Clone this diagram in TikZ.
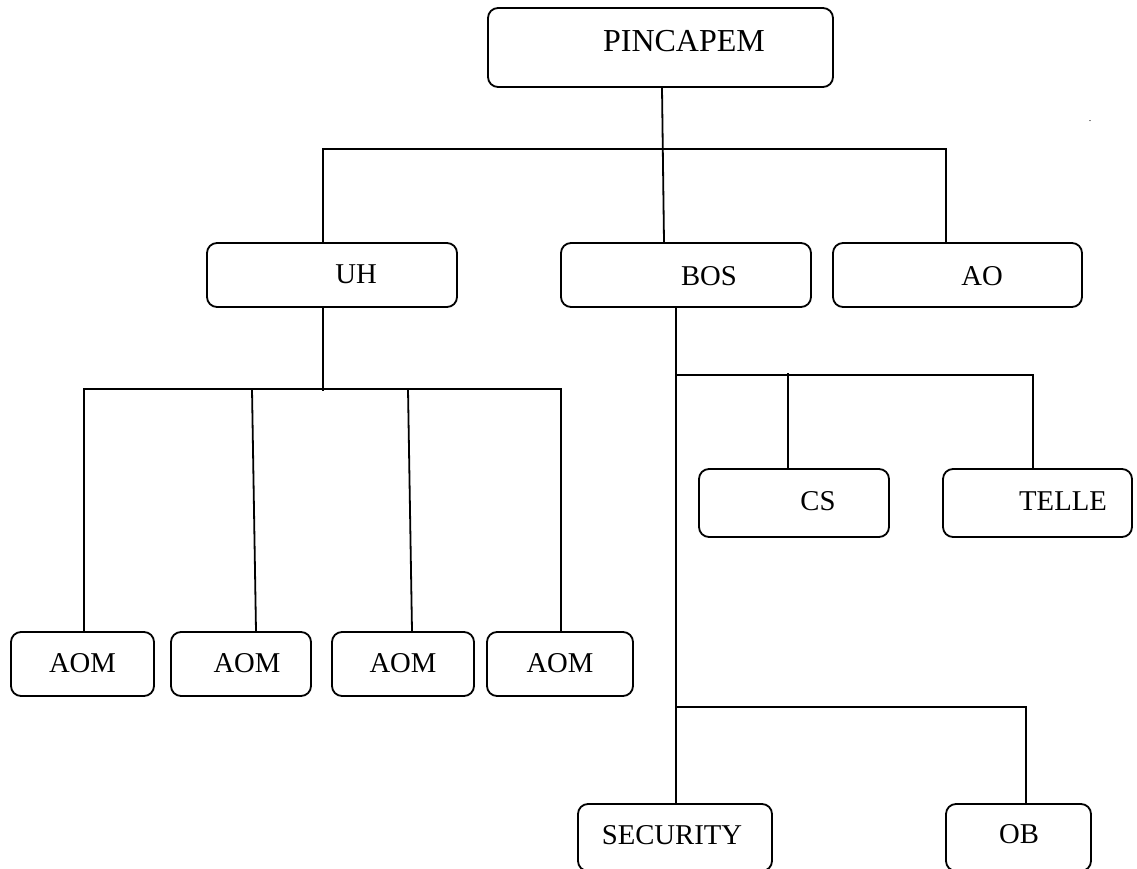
\documentclass[tikz,border=0pt]{standalone}
\usepackage{fontspec}
\setmainfont{Liberation Serif}
\usetikzlibrary{calc}
\begin{document}
\begin{tikzpicture}[x=1pt,y=-1pt,
  box/.style={draw,rounded corners=10pt,line width=1.8pt,inner sep=0pt,anchor=center},
  lbl/.style={anchor=base,inner sep=0pt,font=\fontsize{28.7}{34}\selectfont},
  biglbl/.style={anchor=base,inner sep=0pt,font=\fontsize{32}{38}\selectfont},
  conn/.style={line width=1.8pt}]
\useasboundingbox[fill=white] (0,0) rectangle (1137,869);
% boxes
\node[box,minimum width=345pt,minimum height=79pt] (PIN) at (660.5,47.5) {};
\node[box,minimum width=250pt,minimum height=64pt] (UH) at (332,275) {};
\node[box,minimum width=250pt,minimum height=64pt] (BOS) at (686,275) {};
\node[box,minimum width=249pt,minimum height=64pt] (AO) at (957.5,275) {};
\node[box,minimum width=190pt,minimum height=68pt] (CS) at (794,503) {};
\node[box,minimum width=189pt,minimum height=68pt] (TELLE) at (1037.5,503) {};
\node[box,minimum width=143pt,minimum height=64pt] (AOM1) at (82.5,664) {};
\node[box,minimum width=140pt,minimum height=64pt] (AOM2) at (241,664) {};
\node[box,minimum width=142pt,minimum height=64pt] (AOM3) at (403,664) {};
\node[box,minimum width=146pt,minimum height=64pt] (AOM4) at (560,664) {};
\node[box,minimum width=194pt,minimum height=67pt] (SEC) at (675,837.5) {};
\node[box,minimum width=145pt,minimum height=67pt] (OB) at (1018.5,837.5) {};
% labels
\node[biglbl] (tPIN) at (684,52) {PINCAPEM};
\node[lbl] (tUH) at (356,283) {UH};
\node[lbl] (tBOS) at (709,285) {BOS};
\node[lbl] (tAO) at (982,285) {AO};
\node[lbl] (tCS) at (818,510) {CS};
\node[lbl] (tTELLE) at (1063,510) {TELLE};
\node[lbl] (tAOM1) at (82.5,672) {AOM};
\node[lbl] (tAOM2) at (247,672) {AOM};
\node[lbl] (tAOM3) at (403,672) {AOM};
\node[lbl] (tAOM4) at (560,672) {AOM};
\node[lbl] (tSEC) at (672,844) {SECURITY};
\node[lbl] (tOB) at (1019,843) {OB};
\node[anchor=base,inner sep=0pt,font=\fontsize{10}{12}\selectfont] (tdot) at (1090,122) {.};
% connectors
\draw[conn] ($(PIN.south)+(1.5,0)$) -- ($(BOS.north)+(-22,0)$);
\draw[conn] ($(UH.north)+(-9,0)$) -- ++(0,-93) -| ($(AO.north)+(-11.5,0)$);
\draw[conn] ($(UH.south)+(-9,0)$) -- ++(0,83);
\draw[conn] ($(AOM1.north)+(1.5,0)$) -- ++(0,-242) -| ($(AOM4.north)+(1,0)$);
\draw[conn] ($(AOM2.north)+(15,0)$) -- ++(-4,-242);
\draw[conn] ($(AOM3.north)+(9,0)$) -- ++(-4,-242);
\draw[conn] ($(BOS.south)+(-10,0)$) -- ($(SEC.north)+(1,0)$);
\draw[conn] ($(BOS.south)+(-10,67)$) -| ($(TELLE.north)+(-4.5,0)$);
\draw[conn] ($(CS.north)+(-6,0)$) -- ++(0,-95);
\draw[conn] ($(SEC.north)+(1,-96)$) -| ($(OB.north)+(7.5,0)$);
\end{tikzpicture}
\end{document}
